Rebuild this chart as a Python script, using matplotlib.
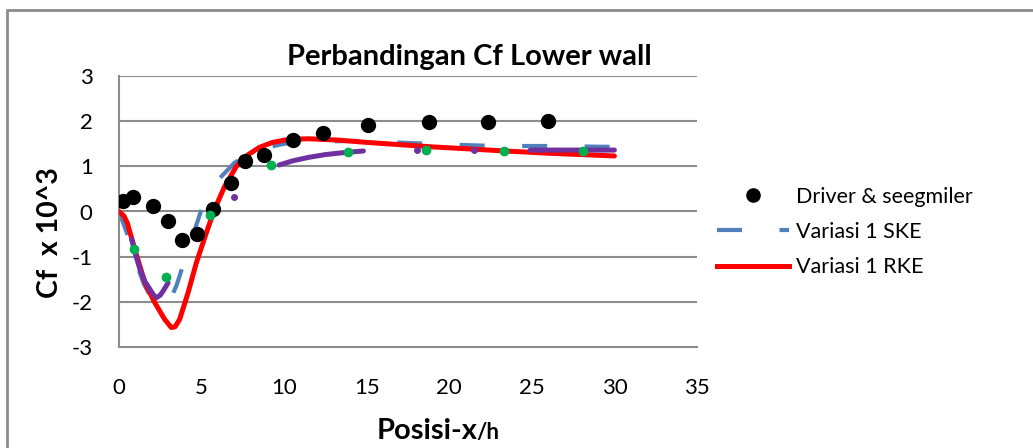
import numpy as np
import matplotlib
matplotlib.use("Agg")
import matplotlib.pyplot as plt
from matplotlib.lines import Line2D
from matplotlib.patches import Rectangle

plt.rcParams['font.family'] = ['Lato', 'DejaVu Sans']
plt.rcParams['axes.unicode_minus'] = False

# Driver & seegmiler (experiment)
ds_x = [0.26, 0.83, 2.07, 2.95, 3.80, 4.72, 5.71, 6.79, 7.63, 8.75, 10.54, 12.37, 15.08, 18.8, 22.37, 26.0]
ds_y = [0.24, 0.31, 0.13, -0.22, -0.64, -0.50, 0.05, 0.63, 1.11, 1.24, 1.58, 1.73, 1.91, 1.99, 1.99, 2.0]

# Variasi 1 SKE
ske_x = [0, 0.5, 1, 1.5, 2, 2.5, 3, 3.5, 4, 4.5, 5, 5.5, 6, 7, 8, 9, 10, 12, 14, 16, 18, 20, 22, 24, 26, 28, 30]
ske_y = [0.0, -0.5, -1.1, -1.6, -1.95, -2.08, -2.05, -1.62, -1.05, -0.5, 0.05, 0.38, 0.7, 1.08, 1.3, 1.42, 1.5, 1.55, 1.56, 1.54, 1.51, 1.48, 1.46, 1.45, 1.45, 1.44, 1.43]

# Variasi 1 RKE
rke_x = [0, 0.3, 0.5, 0.96, 1.57, 2.17, 2.77, 3.17, 3.4, 3.67, 4.18, 4.68, 5.28, 5.78, 6.39, 7.09, 7.79,
         8.5, 9.3, 10.3, 11.5, 13.3, 15, 17, 19, 21, 23.35, 26, 28, 30]
rke_y = [0.0, -0.1, -0.25, -0.84, -1.58, -2.02, -2.39, -2.57, -2.55, -2.39, -1.80, -1.14, -0.48, 0.04, 0.55, 0.99, 1.25,
         1.42, 1.53, 1.6, 1.61, 1.58, 1.53, 1.48, 1.43, 1.39, 1.34, 1.29, 1.26, 1.23]

# purple series (broken line, not in legend)
pu_x = [0.76, 1.0, 1.27, 1.57, 1.87, 2.1, 2.27, 2.5, 2.67, 2.97, np.nan,
        9.7, 10.5, 11.5, 12.5, 13.5, 14.8, np.nan, 24.9, 27, 30]
pu_y = [-0.61, -0.95, -1.28, -1.55, -1.72, -1.85, -1.91, -1.85, -1.76, -1.58, np.nan,
        1.03, 1.12, 1.2, 1.26, 1.3, 1.34, np.nan, 1.36, 1.36, 1.36]
pu_dot_x = [6.99, 18.07, 21.5]
pu_dot_y = [0.33, 1.37, 1.37]

# green points (not in legend)
gr_x = [0.90, 2.87, 5.54, 9.18, 13.86, 18.57, 23.3, 28.07]
gr_y = [-0.83, -1.45, -0.07, 1.03, 1.32, 1.36, 1.34, 1.34]

W, H = 1033, 448
fig = plt.figure(figsize=(W / 100, H / 100), dpi=100)
ax = fig.add_axes([119 / W, 1 - 347 / H, 578 / W, 271 / H])

grid_c = '#8c8c8c'
blue = '#4f81bd'
ax.plot(ske_x, ske_y, color=blue, lw=3, dashes=(6, 9), zorder=2)
ax.plot(rke_x, rke_y, color='#ff0000', lw=3.6, solid_capstyle='round', solid_joinstyle='round', zorder=3)
ax.plot(pu_x, pu_y, color='#7030a0', lw=3.6, solid_capstyle='round', zorder=4)
ax.plot(pu_dot_x, pu_dot_y, 'o', color='#7030a0', ms=4, zorder=4)
ax.plot(ds_x, ds_y, 'o', color='black', ms=10, zorder=5)
ax.plot(gr_x, gr_y, 'o', color='#00b050', ms=6, zorder=6)

ax.set_xlim(0, 35)
ax.set_ylim(-3, 3)
ax.set_xticks(range(0, 36, 5))
ax.set_yticks(range(-3, 4))
for y in range(-2, 4):
    ax.axhline(y, color=grid_c, lw=1.5, zorder=1)
for s in ['top', 'right']:
    ax.spines[s].set_visible(False)
for s in ['left', 'bottom']:
    ax.spines[s].set_color(grid_c)
    ax.spines[s].set_linewidth(1.5)
ax.tick_params(length=0, labelsize=16)
ax.tick_params(axis='y', pad=19)
ax.tick_params(axis='x', pad=22)

fig.text(469 / W, 1 - 65 / H, 'Perbandingan Cf Lower wall', fontsize=21, fontweight='bold',
         ha='center', va='baseline')
fig.text(50 / W, 1 - 233 / H, 'Cf  x 10^3', fontsize=20.5, fontweight='bold', rotation=90,
         ha='center', va='center')
fig.text(478 / W, 1 - 439 / H, 'Posisi-x', fontsize=21, fontweight='bold', ha='right', va='baseline')
fig.text(476 / W, 1 - 439 / H, '/h', fontsize=16, fontweight='bold', ha='left', va='baseline')

handles = [
    Line2D([], [], ls='none', marker='o', color='black', ms=9.5),
    Line2D([], [], color=blue, lw=3, dashes=(6, 9)),
    Line2D([], [], color='#ff0000', lw=3.6),
]
labels = ['Driver & seegmiler', 'Variasi 1 SKE', 'Variasi 1 RKE']
fig.legend(handles, labels, loc='center left', bbox_to_anchor=(698 / W, 1 - 232 / H),
           frameon=False, fontsize=15.5, handlelength=3.35, handletextpad=0.3, labelspacing=0.7)

# outer chart border
fig.patches.append(Rectangle((7 / W, -0.2), 1.2, 1.2 - 10 / H, transform=fig.transFigure,
                             fill=False, edgecolor='#8c8c8c', lw=2, clip_on=False))

fig.savefig('out.png', dpi=100)
